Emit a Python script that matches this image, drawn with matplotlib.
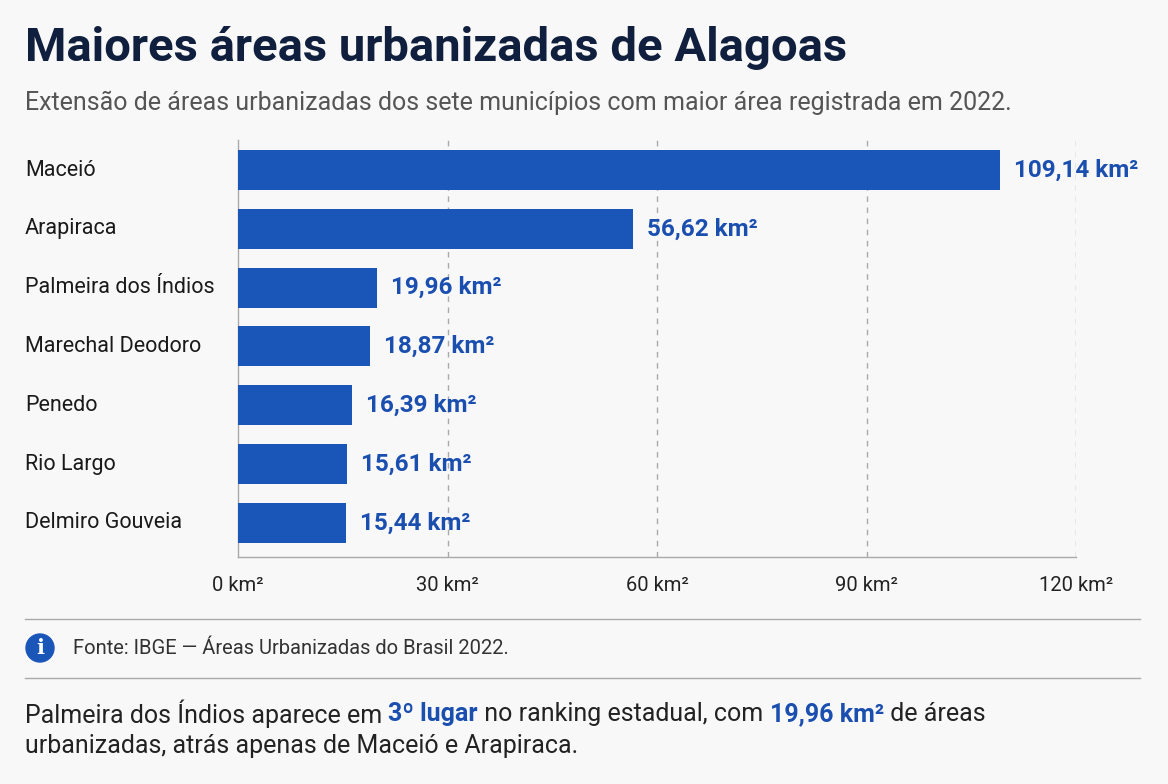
import matplotlib.pyplot as plt
from matplotlib.patches import Circle

plt.rcParams['font.family'] = ['Roboto', 'DejaVu Sans']

municipios = ["Maceió", "Arapiraca", "Palmeira dos Índios", "Marechal Deodoro",
              "Penedo", "Rio Largo", "Delmiro Gouveia"]
areas = [109.14, 56.62, 19.96, 18.87, 16.39, 15.61, 15.44]
xticks = [0, 30, 60, 90, 120]

BG = "#f8f8f8"
BLUE = "#1a56b8"
LABEL_BLUE = "#1a4fb0"
NAVY = "#0f1f3d"
GRAY = "#555555"

fig = plt.figure(figsize=(11.68, 7.84), dpi=100, facecolor=BG)
ax = fig.add_axes([238 / 1168, 1 - 557 / 784, 838 / 1168, 417 / 784])
ax.set_facecolor(BG)

y = list(range(len(municipios)))
ax.barh(y, areas, height=0.68, color=BLUE, zorder=3)
for yi, v in zip(y, areas):
    txt = f"{v:.2f}".replace(".", ",") + " km²"
    ax.annotate(txt, (v, yi), xytext=(10, 0), textcoords="offset points",
                va="center", ha="left", fontsize=17.5, fontweight="bold",
                color=LABEL_BLUE, annotation_clip=False)

ax.set_xlim(0, 120)
ax.set_ylim(6.58, -0.51)
ax.set_xticks(xticks)
ax.set_xticklabels([f"{t} km²" for t in xticks], fontsize=14.5, color="#222222")
ax.tick_params(axis="x", length=0, pad=14)
ax.set_yticks([])
for t in xticks[1:]:
    ax.axvline(t, color="#aaaaaa", lw=1, ls=(0, (4, 4)), zorder=1)
for s in ["top", "right"]:
    ax.spines[s].set_visible(False)
for s in ["left", "bottom"]:
    ax.spines[s].set_color("#aaaaaa")
    ax.spines[s].set_linewidth(1)

# category labels, left-aligned at figure margin
for yi, name in zip(y, municipios):
    fy = 1 - (170 + yi * 58.83) / 784
    fig.text(25 / 1168, fy, name, fontsize=15.5, color="#1a1a1a", va="center", ha="left")

fig.text(25 / 1168, 1 - 48 / 784, "Maiores áreas urbanizadas de Alagoas",
         fontsize=34, fontweight="bold", color=NAVY, va="center", ha="left")
fig.text(25 / 1168, 1 - 103 / 784,
         "Extensão de áreas urbanizadas dos sete municípios com maior área registrada em 2022.",
         fontsize=18, color=GRAY, va="center", ha="left")

# separators
for yy in [619, 678]:
    fig.add_artist(plt.Line2D([25 / 1168, 1140 / 1168], [1 - yy / 784] * 2,
                              color="#aaaaaa", lw=1))

# info icon
cx, cy = 40 / 1168, 1 - 648 / 784
fig.add_artist(Circle((40, 784 - 648), 14, transform=None, color=BLUE))
fig.text(cx, cy, "i", fontsize=15, fontweight="bold", color="white",
         ha="center", va="center", family="DejaVu Serif")
fig.text(73 / 1168, cy, "Fonte: IBGE — Áreas Urbanizadas do Brasil 2022.",
         fontsize=14.5, color="#333333", va="center", ha="left")

# footer with highlighted parts
renderer = fig.canvas.get_renderer()
parts = [("Palmeira dos Índios aparece em ", "#222222", "normal"),
         ("3º lugar", LABEL_BLUE, "bold"),
         (" no ranking estadual, com ", "#222222", "normal"),
         ("19,96 km²", LABEL_BLUE, "bold"),
         (" de áreas", "#222222", "normal")]
x0 = 25
for s, c, w in parts:
    t = fig.text(x0 / 1168, 1 - 714 / 784, s, fontsize=18, color=c, fontweight=w,
                 va="center", ha="left")
    x0 = t.get_window_extent(renderer).x1
fig.text(25 / 1168, 1 - 746 / 784, "urbanizadas, atrás apenas de Maceió e Arapiraca.",
         fontsize=18, color="#222222", va="center", ha="left")

fig.savefig("out.png", dpi=100, facecolor=BG)
